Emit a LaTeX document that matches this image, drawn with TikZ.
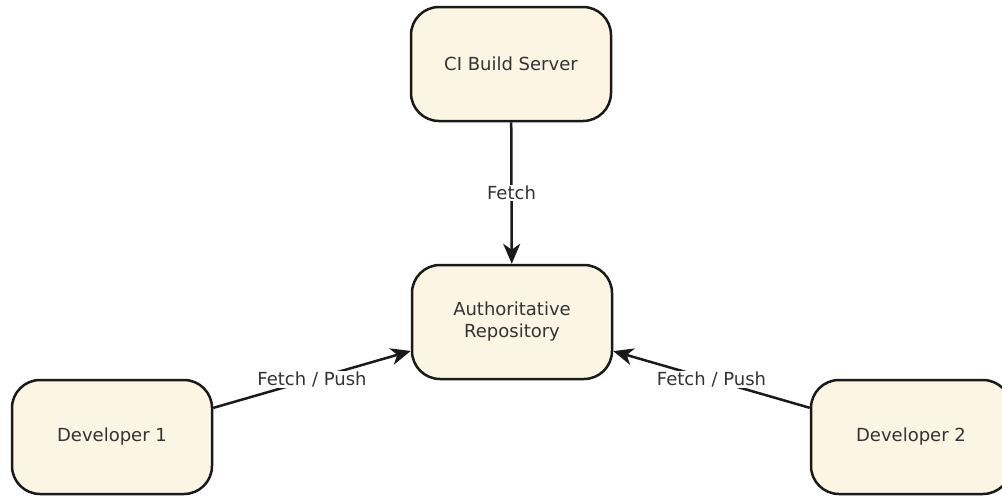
\documentclass[tikz,border=0pt]{standalone}
\usepackage{fontspec}
\setmainfont{DejaVu Sans}
\usetikzlibrary{arrows.meta}
\definecolor{boxfill}{HTML}{FDF5E4}
\definecolor{boxline}{HTML}{1A1A1A}
\definecolor{txt}{HTML}{333333}
\tikzset{
  box/.style={draw=boxline, fill=boxfill, line width=2.5pt, rounded corners=28pt,
    minimum width=200pt, minimum height=114pt, align=center, text=txt,
    font=\fontsize{18pt}{22pt}\selectfont},
  conn/.style={draw=boxline, line width=2.5pt, -{Stealth[length=20pt,width=17pt,inset=6pt]}},
  lbl/.style={fill=white, inner sep=1pt, text=txt, font=\fontsize{18pt}{22pt}\selectfont}
}
\begin{document}
\begin{tikzpicture}
\useasboundingbox (0,0) rectangle (1002pt,-498pt);
\node[box] (ci) at (511pt,-64pt) {CI Build Server};
\node[box] (repo) at (512pt,-322pt) {Authoritative\\Repository};
\node[box] (dev1) at (112pt,-437pt) {Developer 1};
\node[box] (dev2) at (911pt,-437pt) {Developer 2};
\draw[conn] (ci) -- node[lbl] {Fetch} (repo);
\draw[conn] (dev1) -- node[lbl] {Fetch / Push} (repo);
\draw[conn] (dev2) -- node[lbl] {Fetch / Push} (repo);
\end{tikzpicture}
\end{document}
